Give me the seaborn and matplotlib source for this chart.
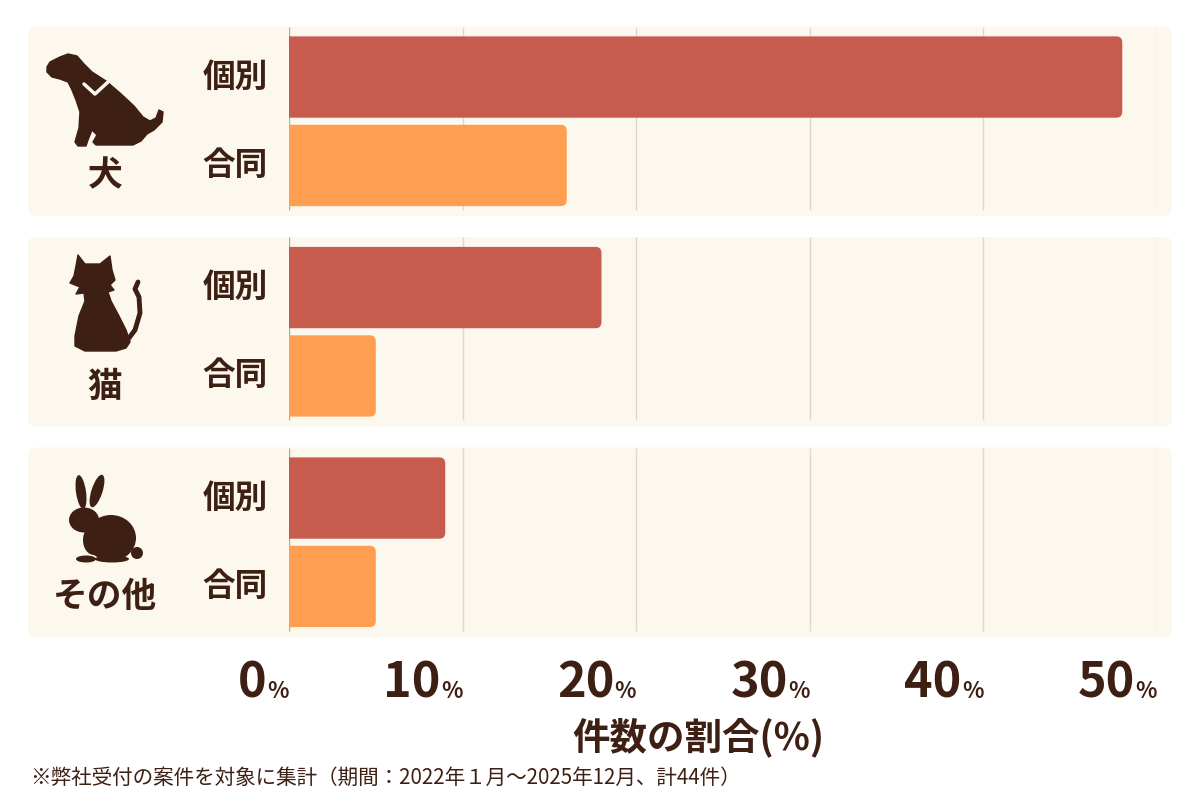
import matplotlib
matplotlib.use("Agg")

import numpy as np
import pandas as pd
import matplotlib.pyplot as plt
import seaborn as sns
from matplotlib import transforms
from matplotlib.patches import FancyBboxPatch, Polygon, Ellipse, Circle

GROUPS = ["犬", "猫", "その他"]
KINDS = ["個別", "合同"]
INDIVIDUAL = [48, 18, 9]
JOINT = [16, 5, 5]
X_TICKS = [0, 10, 20, 30, 40, 50]
X_LABEL = "件数の割合(%)"
NOTE = "※弊社受付の案件を対象に集計（期間：2022年１月〜2025年12月、計44件）"

TEXT = "#3d1f13"
C_IND = "#c75c4e"
C_JOINT = "#ff9e50"
PANEL = "#fdf8ed"
GRID = "#dcd8d0"
ZERO = "#b0aba3"


def main():
    df = pd.DataFrame({
        "group": GROUPS * 2,
        "kind": [KINDS[0]] * len(GROUPS) + [KINDS[1]] * len(GROUPS),
        "pct": INDIVIDUAL + JOINT,
    })

    sns.set_style("white")
    plt.rcParams["font.family"] = ["Noto Sans CJK JP", "DejaVu Sans"]

    fig = plt.figure(figsize=(12, 8), dpi=100)
    ax = fig.add_axes([289 / 1200, 1 - 647.5 / 800, 868 / 1200, 631.5 / 800])
    ax.patch.set_alpha(0)

    sns.barplot(data=df, x="pct", y="group", hue="kind", order=GROUPS, hue_order=KINDS,
                palette=[C_IND, C_JOINT], saturation=1, width=0.84, gap=0.08,
                orient="h", legend=False, ax=ax)

    ax.set_xlim(0, 50)
    ax.set_ylim(len(GROUPS) - 0.5, -0.5)

    # pixel scale of data units, used for rounded corners
    px_x = 868 / 50
    px_y = 631.5 / len(GROUPS)
    aspect = px_x / px_y

    # rounded bar ends (left end hidden by the axes clip)
    rx = 6 / px_x
    for p in list(ax.patches):
        x, y, w, h = p.get_x(), p.get_y(), p.get_width(), p.get_height()
        fc = p.get_facecolor()
        p.remove()
        ax.add_patch(FancyBboxPatch((x - rx, y), w + rx, h,
                                    boxstyle=f"round,pad=0,rounding_size={rx}",
                                    mutation_aspect=aspect, fc=fc, ec="none", zorder=3))

    # background panels and grid per group
    left = (28 - 289) / px_x
    right = (1172 - 289) / px_x
    pr = 8 / px_x
    for i in range(len(GROUPS)):
        ax.add_patch(FancyBboxPatch((left, i - 0.45), right - left, 0.9,
                                    boxstyle=f"round,pad=0,rounding_size={pr}",
                                    mutation_aspect=aspect, fc=PANEL, ec="none",
                                    zorder=0, clip_on=False))
        ax.vlines(X_TICKS[1:], i - 0.45, i + 0.42, color=GRID, lw=1, zorder=1)
        ax.vlines(0, i - 0.45, i + 0.42, color=ZERO, lw=1, zorder=1)

    for s in ax.spines.values():
        s.set_visible(False)
    ax.set_xticks(X_TICKS)
    ax.set_xticklabels([])
    ax.set_yticks([])
    ax.tick_params(length=0)
    ax.set_xlabel("")
    ax.set_ylabel("")

    # tick labels: big number + small %
    for t in X_TICKS:
        ax.annotate(str(t), xy=(t, 0), xycoords=("data", "axes fraction"),
                    xytext=(-22, -50), textcoords="offset pixels", ha="right", va="baseline",
                    fontsize=35, fontweight="bold", color=TEXT, annotation_clip=False)
        ax.annotate("%", xy=(t, 0), xycoords=("data", "axes fraction"),
                    xytext=(0, -50), textcoords="offset pixels", ha="right", va="baseline",
                    fontsize=16, fontweight="bold", color=TEXT, annotation_clip=False)

    # kind labels beside each bar
    off = 0.84 / 4
    for i in range(len(GROUPS)):
        for k, kind in enumerate(KINDS):
            ax.annotate(kind, xy=(0, i + (k - 0.5) * 2 * off), xytext=(-21, 0),
                        textcoords="offset pixels", ha="right", va="center",
                        fontsize=23.5, fontweight="bold", color=TEXT, annotation_clip=False)

    # group names under the icons
    blend = transforms.blended_transform_factory(fig.transFigure, ax.transData)
    for i, g in enumerate(GROUPS):
        ax.text(105 / 1200, i + 0.26, g, transform=blend, ha="center", va="center",
                fontsize=25, fontweight="bold", color=TEXT)

    fig.text(698 / 1200, 1 - 737 / 800, X_LABEL, ha="center", va="center",
             fontsize=27, fontweight="bold", color=TEXT)
    fig.text(30 / 1200, 1 - 778 / 800, NOTE, ha="left", va="center",
             fontsize=14.8, color=TEXT)

    # icons, drawn in image pixel coords
    deco = fig.add_axes([0, 0, 1, 1], zorder=5)
    deco.set_xlim(0, 1200)
    deco.set_ylim(800, 0)
    deco.axis("off")
    deco.patch.set_alpha(0)

    dog = [(47, 67), (50, 62), (60, 57), (68, 54), (77, 56), (84, 64), (92, 72), (106, 81),
           (120, 93), (134, 106), (143, 117), (150, 121), (156, 118), (159, 110), (163, 112),
           (162, 122), (154, 130), (147, 134), (141, 141), (133, 145), (96, 145), (93, 142),
           (97, 135), (92, 130), (88, 140), (86, 146), (78, 146), (75, 142), (79, 128),
           (80, 112), (76, 100), (72, 90), (68, 82), (60, 79), (52, 77), (47, 72)]
    deco.add_patch(Polygon(dog, closed=True, fc=TEXT, ec=TEXT, lw=1, joinstyle="round"))
    deco.plot([84, 95, 108], [84, 94, 82], color=PANEL, lw=2.5, solid_capstyle="round")

    cat = [(78, 255), (85, 264), (100, 264), (110, 256), (112, 270), (115, 280), (110, 285),
           (114, 290), (108, 292), (111, 301), (119, 316), (126, 330), (130, 342), (126, 348),
           (116, 351), (85, 351), (75, 346), (75, 336), (79, 316), (85, 301), (84, 293),
           (76, 294), (80, 287), (70, 283), (74, 276), (76, 266)]
    deco.add_patch(Polygon(cat, closed=True, fc=TEXT, ec=TEXT, lw=1, joinstyle="round"))
    deco.plot([126, 135, 140, 139, 135, 138], [342, 330, 313, 297, 289, 282],
              color=TEXT, lw=3.5, solid_capstyle="round", solid_joinstyle="round")

    deco.add_patch(Ellipse((81, 492), 10, 34, angle=-8, fc=TEXT, ec="none"))
    deco.add_patch(Ellipse((97, 491), 11, 34, angle=18, fc=TEXT, ec="none"))
    deco.add_patch(Ellipse((84, 520), 30, 25, fc=TEXT, ec="none"))
    deco.add_patch(Ellipse((111, 538), 50, 46, fc=TEXT, ec="none"))
    deco.add_patch(Ellipse((94, 540), 22, 30, fc=TEXT, ec="none"))
    deco.add_patch(Circle((137, 553), 6, fc=TEXT, ec="none"))
    deco.add_patch(Ellipse((86, 559), 20, 7, fc=TEXT, ec="none"))
    deco.add_patch(Ellipse((112, 559), 34, 7, fc=TEXT, ec="none"))

    fig.savefig("out.png", dpi=100, facecolor="white")


if __name__ == "__main__":
    main()
